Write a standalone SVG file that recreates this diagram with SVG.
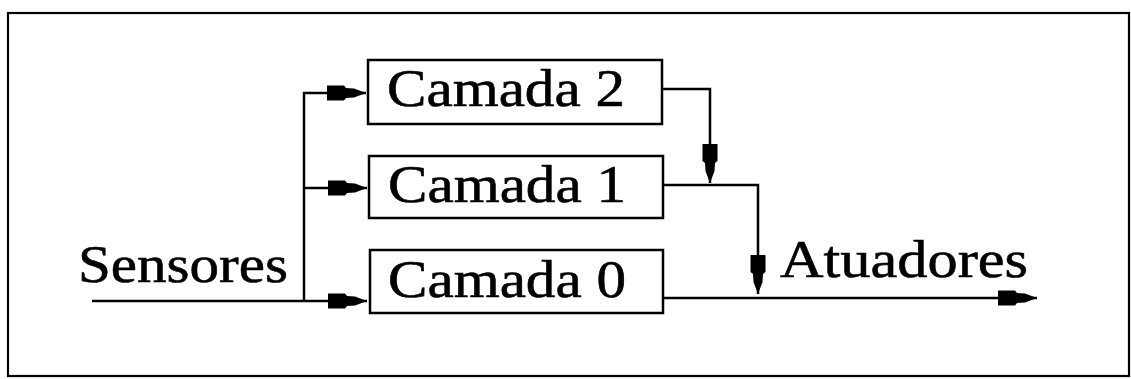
<svg xmlns="http://www.w3.org/2000/svg" width="1131" height="379" viewBox="0 0 1131 379">
<style>
.ln{fill:none;stroke:#000;stroke-width:2.5}
.box{fill:#fff;stroke:#000;stroke-width:2.5}
.t{font-family:"Liberation Serif","DejaVu Serif",serif;font-size:53px;fill:#000;stroke:#000;stroke-width:0.6}
</style>
<defs>
<marker id="ah" markerUnits="userSpaceOnUse" markerWidth="40" markerHeight="20" refX="39" refY="10" orient="auto" viewBox="0 0 40 20">
<path d="M0,2.5 L17,2.5 L19,5 L27,5.5 L39,10 L27,14.5 L19,15 L17,17.5 L0,17.5 Z" fill="#000"/>
</marker>
</defs>
<rect x="8" y="13" width="1121" height="363" fill="none" stroke="#000" stroke-width="2.2"/>
<g id="connectors">
<path class="ln" d="M92,301 L367,301" marker-end="url(#ah)"/>
<path class="ln" d="M304,301 L304,93 L366,93" marker-end="url(#ah)"/>
<path class="ln" d="M304,188 L367,188" marker-end="url(#ah)"/>
<path class="ln" d="M662,89 L710,89 L710,183" marker-end="url(#ah)"/>
<path class="ln" d="M663,185 L758,185 L758,294" marker-end="url(#ah)"/>
<path class="ln" d="M663,298 L1037,298" marker-end="url(#ah)"/>
</g>
<g id="camada2">
<rect class="box" x="368" y="60" width="294" height="64"/>
<text class="t" x="387" y="106" textLength="238" lengthAdjust="spacingAndGlyphs">Camada 2</text>
</g>
<g id="camada1">
<rect class="box" x="369" y="156" width="294" height="62"/>
<text class="t" x="388" y="202" textLength="238" lengthAdjust="spacingAndGlyphs">Camada 1</text>
</g>
<g id="camada0">
<rect class="box" x="370" y="250" width="293" height="63"/>
<text class="t" x="388" y="297" textLength="238" lengthAdjust="spacingAndGlyphs">Camada 0</text>
</g>
<g id="sensores">
<text class="t" x="78" y="282" textLength="210" lengthAdjust="spacingAndGlyphs">Sensores</text>
</g>
<g id="atuadores">
<text class="t" x="780" y="277" textLength="248" lengthAdjust="spacingAndGlyphs">Atuadores</text>
</g>
</svg>
